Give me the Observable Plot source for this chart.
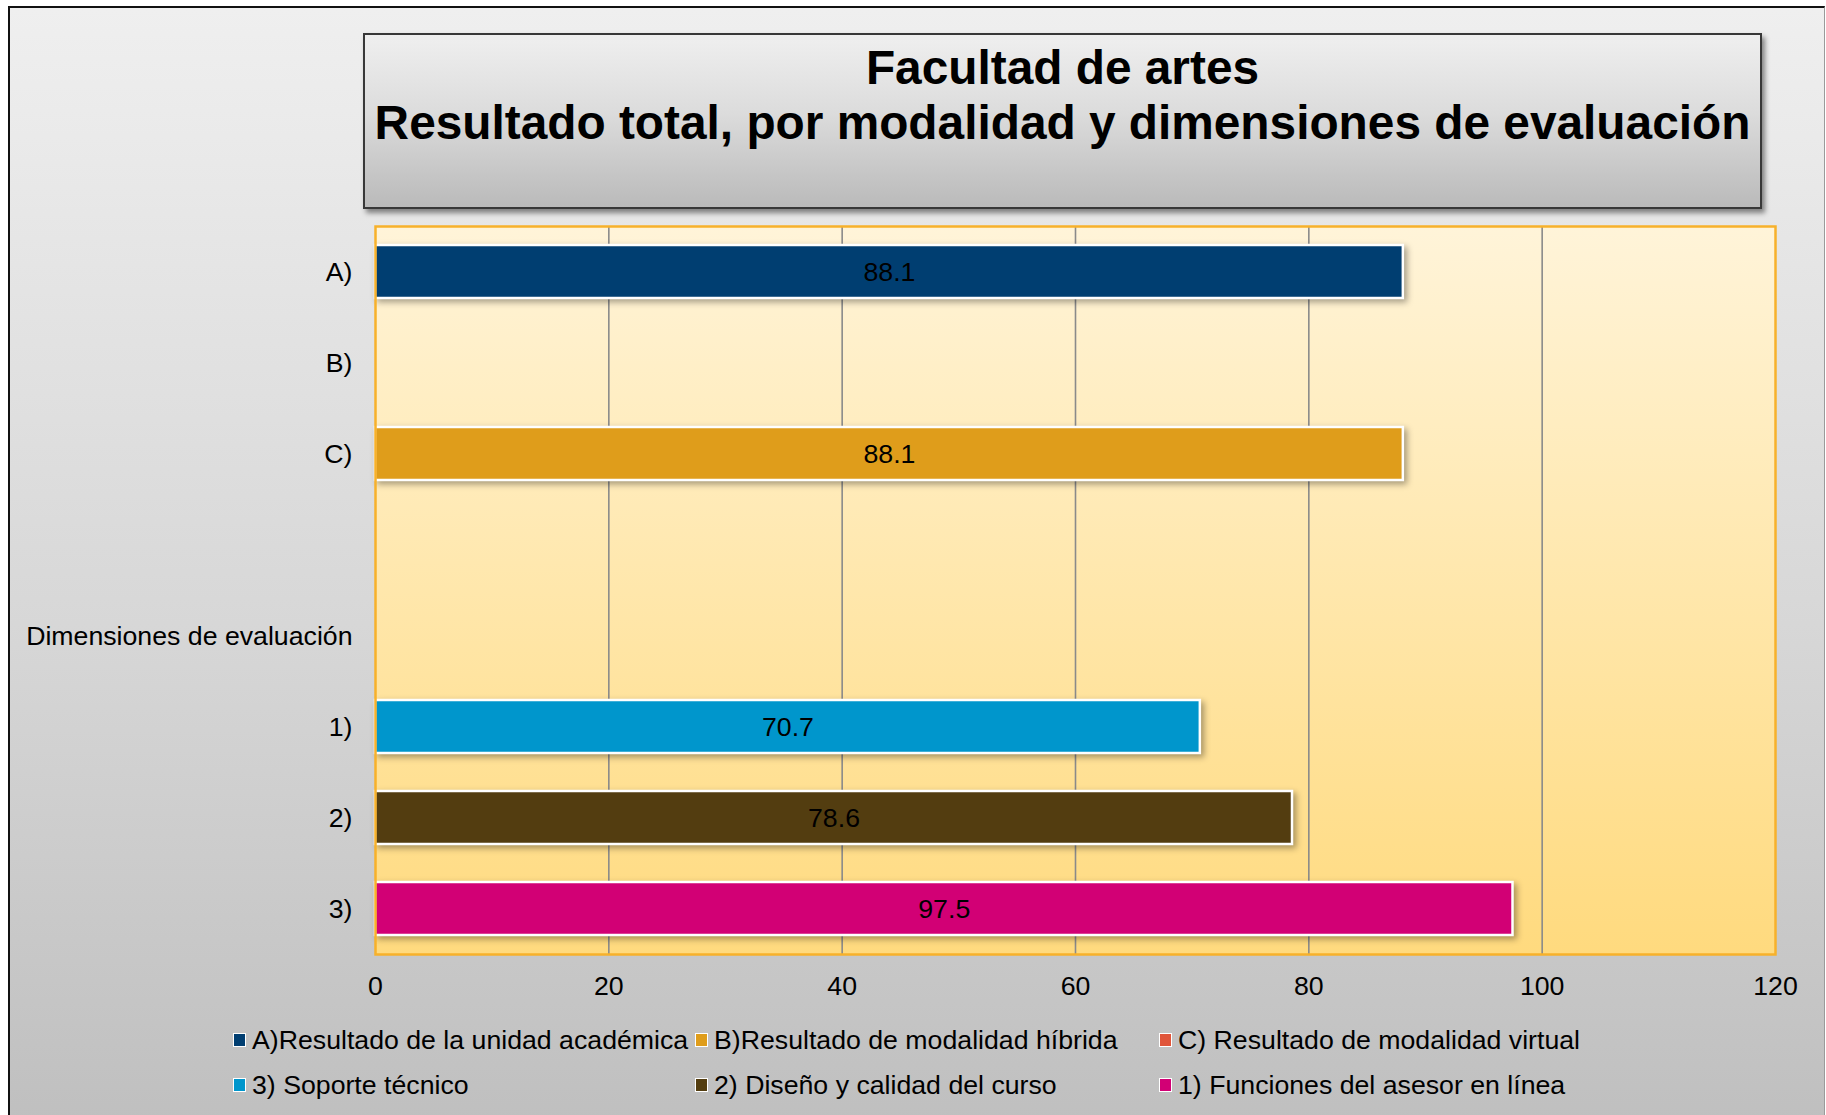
<!DOCTYPE html>
<html>
<head>
<meta charset="utf-8">
<script src="https://cdn.jsdelivr.net/npm/d3@7"></script>
<script src="https://cdn.jsdelivr.net/npm/@observablehq/plot@0.6"></script>
<style>
  html, body { margin: 0; padding: 0; background: #ffffff; }
  body { width: 1826px; height: 1115px; overflow: hidden; position: relative;
         font-family: "Liberation Sans", Arial, sans-serif; }
  #frame { position: absolute; left: 8px; top: 6px; width: 1814px; height: 1120px;
           border-left: 2.5px solid #111; border-top: 2.5px solid #111; border-right: 1px solid #9a9a9a;
           background: linear-gradient(to bottom, #efefef 0%, #d7d7d7 55%, #bfbfbf 100%); }
  #titlebox { position: absolute; left: 363px; top: 33px; width: 1395px; height: 167px;
              border: 2px solid #383838;
              background: linear-gradient(to bottom, #efefef 0%, #dcdcdc 45%, #bababa 100%);
              box-shadow: 3px 4px 5px rgba(0,0,0,0.45);
              text-align: center; font-weight: bold; font-size: 47.8px; line-height: 55px;
              color: #000; padding-top: 5px; box-sizing: content-box; }
  #chart { position: absolute; left: 0; top: 0; }
  .leg { position: absolute; height: 30px; display: flex; align-items: center;
         font-size: 26.7px; color: #000; white-space: nowrap; }
  .sw { width: 11px; height: 12px; border: 1px solid #fff; margin-right: 6px; }
</style>
</head>
<body>
<div id="frame"></div>
<div id="titlebox"></div>
<div id="chart"></div>
<div id="legend"></div>
<script>
// ---- data ----
const titleLines = ["Facultad de artes", "Resultado total, por modalidad y dimensiones de evaluación"];
const categories = ["A)", "B)", "C)", "", "Dimensiones de evaluación", "1)", "2)", "3)"];
const barCategories = ["A)", "C)", "1)", "2)", "3)"];
const barValues = [88.1, 88.1, 70.7, 78.6, 97.5];
const barColors = ["#003e71", "#df9d1b", "#0096cc", "#533d10", "#d20075"];
const xTicks = [0, 20, 40, 60, 80, 100, 120];
const gridTicks = [20, 40, 60, 80, 100];
const legendLabels = [
  "A)Resultado de la unidad académica",
  "B)Resultado de modalidad híbrida",
  "C) Resultado de modalidad virtual",
  "3) Soporte técnico",
  "2) Diseño y calidad del curso",
  "1) Funciones del asesor en línea"
];
const legendColors = ["#003e71", "#df9d1b", "#e0553a", "#0096cc", "#533d10", "#d20075"];

// ---- title ----
const tb = document.getElementById("titlebox");
titleLines.forEach(t => { const d = document.createElement("div"); d.textContent = t; tb.appendChild(d); });

// ---- chart ----
const bars = barCategories.map((c, i) => ({cat: c, value: barValues[i], color: barColors[i]}));

const svg = Plot.plot({
  width: 1826,
  height: 1010,
  marginTop: 226,
  marginBottom: 56,
  marginLeft: 375,
  marginRight: 51,
  style: {background: "transparent", fontFamily: "Liberation Sans, Arial, sans-serif", fontSize: "26.7px", color: "#000", overflow: "visible"},
  x: {domain: [0, 120], axis: null},
  y: {domain: categories, paddingInner: 0.42, paddingOuter: 0.21, axis: null},
  color: {type: "identity"},
  marks: [
    Plot.frame({fill: "url(#plotbg)", stroke: "none"}),
    Plot.gridX({ticks: gridTicks, stroke: "#8a8a8a", strokeOpacity: 1, strokeWidth: 1.6}),
    Plot.barX(bars, {x: "value", y: "cat", fill: "color", stroke: "#ffffff", strokeWidth: 2.5}),
    Plot.text(bars, {x: d => d.value / 2, y: "cat", text: d => d.value.toFixed(1), fill: "#000", fontSize: 26.7}),
    Plot.frame({stroke: "#f7b12b", strokeWidth: 2.5}),
    Plot.axisX({ticks: xTicks, tickSize: 0, tickPadding: 22, fontSize: 26.7, label: null, tickFormat: d => String(d)}),
    Plot.axisY({tickSize: 0, tickPadding: 23, fontSize: 26.7, label: null})
  ]
});

const s = d3.select(svg);
const grad = s.insert("defs", ":first-child").append("linearGradient")
  .attr("id", "plotbg").attr("x1", 0).attr("y1", 0).attr("x2", 0).attr("y2", 1);
grad.append("stop").attr("offset", "0%").attr("stop-color", "#fff4d9");
grad.append("stop").attr("offset", "100%").attr("stop-color", "#ffda7e");
s.selectAll('g[aria-label="bar"]').style("filter", "drop-shadow(3px 3px 3px rgba(0,0,0,0.35))");
document.getElementById("chart").appendChild(svg);

// ---- legend ----
const colX = [233, 695, 1159];
const rowY = [1040, 1085];
const lg = document.getElementById("legend");
legendLabels.forEach((lab, i) => {
  const item = document.createElement("div");
  item.className = "leg";
  item.style.left = colX[i % 3] + "px";
  item.style.top = (rowY[Math.floor(i / 3)] - 15) + "px";
  const sw = document.createElement("div");
  sw.className = "sw";
  sw.style.background = legendColors[i];
  const tx = document.createElement("span");
  tx.textContent = lab;
  item.appendChild(sw); item.appendChild(tx);
  lg.appendChild(item);
});
</script>
</body>
</html>
